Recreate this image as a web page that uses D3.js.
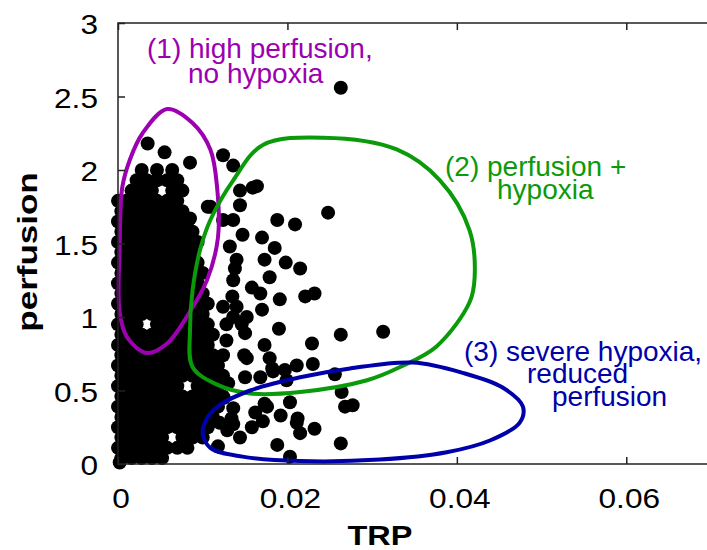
<!DOCTYPE html>
<html><head><meta charset="utf-8">
<script src="https://cdn.jsdelivr.net/npm/d3@7"></script>
<style>body{margin:0;background:#fff}text{font-family:"Liberation Sans",Arial,sans-serif}</style>
</head><body><svg id="c" width="707" height="550"></svg>
<script>
// ---- data ----
const xTicks = [0, 0.02, 0.04, 0.06];
const xTickLabels = ["0", "0.02", "0.04", "0.06"];
const yTicks = [0, 0.5, 1, 1.5, 2, 2.5, 3];
const yTickLabels = ["0", "0.5", "1", "1.5", "2", "2.5", "3"];

// dense core of the cloud: perfusion level of each row and TRP values in that row
const coreY = [0.04,0.11,0.18,0.25,0.32,0.39,0.46,0.53,0.60,0.67,0.74,0.81,0.88,0.95,1.02,1.09,1.16,1.23,1.30,1.37,1.44,1.51,1.58,1.65,1.72,1.79,1.86,1.93,2.00];
const coreX = [
 [0.0004,0.0016,0.0028,0.0040,0.0052],
 [0,0.0010,0.0022,0.0034,0.0046,0.0058,0.0070,0.0082],
 [0.0004,0.0016,0.0028,0.0040,0.0052,0.0076,0.0088,0.0100],
 [0,0.0010,0.0022,0.0034,0.0046,0.0058,0.0070,0.0082,0.0094,0.0106],
 [0.0004,0.0016,0.0028,0.0040,0.0052,0.0064,0.0076,0.0088,0.0100,0.0112],
 [0,0.0010,0.0022,0.0034,0.0046,0.0058,0.0070,0.0082,0.0094,0.0106,0.0118],
 [0.0004,0.0016,0.0028,0.0040,0.0052,0.0064,0.0076,0.0088,0.0100,0.0112,0.0124],
 [0,0.0010,0.0022,0.0034,0.0046,0.0058,0.0070,0.0094,0.0106,0.0118],
 [0.0004,0.0016,0.0028,0.0040,0.0052,0.0064,0.0076,0.0088,0.0100,0.0112,0.0124],
 [0,0.0010,0.0022,0.0034,0.0046,0.0058,0.0070,0.0082,0.0094,0.0106,0.0118],
 [0.0004,0.0016,0.0028,0.0040,0.0052,0.0064,0.0076,0.0088,0.0100,0.0112,0.0124],
 [0,0.0010,0.0022,0.0034,0.0046,0.0058,0.0070,0.0082,0.0094,0.0106],
 [0.0004,0.0016,0.0028,0.0040,0.0052,0.0064,0.0076,0.0088,0.0100,0.0112],
 [0,0.0010,0.0022,0.0046,0.0058,0.0070,0.0082,0.0094,0.0106],
 [0.0004,0.0016,0.0028,0.0040,0.0052,0.0064,0.0076,0.0088,0.0100],
 [0,0.0010,0.0022,0.0034,0.0046,0.0058,0.0070,0.0082,0.0094,0.0106],
 [0.0004,0.0016,0.0028,0.0040,0.0052,0.0064,0.0076,0.0088,0.0100],
 [0,0.0010,0.0022,0.0034,0.0046,0.0058,0.0070,0.0082,0.0094],
 [0.0004,0.0016,0.0028,0.0040,0.0052,0.0064,0.0076,0.0088,0.0100],
 [0,0.0010,0.0022,0.0034,0.0046,0.0058,0.0070,0.0082,0.0094],
 [0.0004,0.0016,0.0028,0.0040,0.0052,0.0064,0.0076,0.0088],
 [0,0.0010,0.0022,0.0034,0.0046,0.0058,0.0070,0.0082,0.0094],
 [0.0004,0.0016,0.0028,0.0040,0.0052,0.0064,0.0076,0.0088],
 [0,0.0010,0.0022,0.0034,0.0046,0.0058,0.0070,0.0082],
 [0.0004,0.0016,0.0028,0.0040,0.0052,0.0064,0.0076],
 [0,0.0010,0.0022,0.0034,0.0046,0.0058,0.0070],
 [0.0016,0.0028,0.0040,0.0064,0.0076],
 [0.0022,0.0034,0.0046,0.0058,0.0070],
 [0.0028,0.0046,0.0064]
];

// scattered points outside the core
const scatterTRP = [0.0002,0.0035,0.0055,0.0085,0.0106,0.0085,
 0.0263,0.0124,0.0136,0.0164,0.0144,0.0144,0.0248,0.0136,0.0188,0.0209,0.0147,0.0170,0.0185,0.0173,
 0.0198,0.0215,0.0138,0.0179,0.0136,0.0158,0.0168,0.0191,0.0221,0.0232,0.0140,0.0170,0.0152,0.0146,
 0.0150,0.0190,0.0263,0.0313,0.0229,0.0173,0.0149,0.0179,0.0211,0.0230,0.0182,0.0197,0.0150,0.0168,
 0.0199,0.0256,0.0264,0.0277,0.0268,0.0203,0.0173,0.0162,0.0136,0.0192,0.0212,0.0171,0.0158,0.0136,
 0.0120,0.0232,0.0215,0.0144,0.0188,0.0263,0.0203,0.0109,0.0124,0.0132,0.0140,0.0135,0.0124,0.0136,
 0.0159,0.0152,0.0129,0.0176,0.0211,0.0183,0.0128,0.0130,0.0125,0.0134,0.0118,0.0128];
const scatterPerf = [0.01,2.18,2.12,2.05,1.75,1.67,
 2.56,2.10,2.03,1.89,1.86,1.76,1.71,1.66,1.66,1.63,1.56,1.54,1.47,1.39,
 1.37,1.33,1.33,1.27,1.25,1.20,1.16,1.12,1.14,1.16,1.07,1.05,1.00,0.95,
 0.89,0.92,0.88,0.90,0.82,0.81,0.74,0.72,0.67,0.68,0.65,0.64,0.59,0.59,
 0.57,0.61,0.49,0.40,0.39,0.42,0.41,0.35,0.38,0.33,0.31,0.29,0.25,0.27,
 0.28,0.24,0.21,0.18,0.13,0.14,0.05,1.75,1.66,1.48,1.39,1.14,1.07,1.00,
 1.88,0.72,0.23,0.39,0.28,0.63,0.84,0.55,0.45,0.31,0.12,0.95];

// annotation outlines (TRP, perfusion)
const region1 = [[0.0058,2.415],[0.0088,2.32],[0.0109,2.14],[0.0117,1.88],[0.0118,1.54],[0.0105,1.25],[0.0081,1.00],[0.0058,0.82],[0.0034,0.755],[0.0011,0.86],[0.0002,1.03],[0.0002,1.48],[0.0005,1.88],[0.0014,2.07],[0.0029,2.25]];
const region2 = [[0.0085,0.91],[0.0088,0.66],[0.0117,0.54],[0.0156,0.48],[0.0215,0.49],[0.0294,0.57],[0.0333,0.66],[0.0376,0.80],[0.0415,1.10],[0.0421,1.27],[0.0415,1.59],[0.0380,1.93],[0.0329,2.14],[0.0242,2.22],[0.0171,2.17],[0.0136,1.93],[0.0109,1.66],[0.0097,1.46],[0.0088,1.18]];
const region3 = [[0.0100,0.21],[0.0105,0.31],[0.0120,0.40],[0.0156,0.50],[0.0215,0.59],[0.0274,0.65],[0.0348,0.69],[0.0407,0.62],[0.0454,0.52],[0.0478,0.39],[0.0474,0.28],[0.0439,0.16],[0.0388,0.08],[0.0309,0.03],[0.0215,0.02],[0.0147,0.05],[0.0109,0.11]];
const regionColors = ["#9c00b0", "#0a9a0a", "#0000aa"];
const regionLabels = [
 ["(1) high perfusion,", "no hypoxia"],
 ["(2) perfusion +", "hypoxia"],
 ["(3) severe hypoxia,", "reduced", "perfusion"]
];

// ---- drawing ----
const svg = d3.select("#c");
const x = d3.scaleLinear().domain([0, 0.07]).range([118, 711]);
const y = d3.scaleLinear().domain([0, 3]).range([464, 23]);

const pts = [];
coreY.forEach((py, i) => coreX[i].forEach(px => pts.push([px, py])));
scatterTRP.forEach((px, i) => pts.push([px, scatterPerf[i]]));

svg.append("g").selectAll("circle").data(pts).join("circle")
  .attr("cx", d => x(d[0])).attr("cy", d => y(d[1])).attr("r", 7).attr("fill", "#000");

const line = d3.line().x(d => x(d[0])).y(d => y(d[1])).curve(d3.curveCatmullRomClosed.alpha(0.5));
[region1, region2, region3].forEach((r, i) => {
  svg.append("path").attr("d", line(r)).attr("fill", "none")
    .attr("stroke", regionColors[i]).attr("stroke-width", 4);
});

// frame
const fr = svg.append("g").attr("stroke", "#222").attr("stroke-width", 1.5).attr("fill", "none");
fr.append("rect").attr("x", x(0)).attr("y", y(3)).attr("width", x(0.07) - x(0)).attr("height", y(0) - y(3));
// ticks (inward, mirrored)
const xa = svg.append("g").attr("transform", `translate(0,${y(0)})`)
  .call(d3.axisBottom(x).tickValues(xTicks).tickSize(-7).tickFormat(""));
const xt = svg.append("g").attr("transform", `translate(0,${y(3)})`)
  .call(d3.axisTop(x).tickValues(xTicks).tickSize(-7).tickFormat(""));
const ya = svg.append("g").attr("transform", `translate(${x(0)},0)`)
  .call(d3.axisLeft(y).tickValues(yTicks).tickSize(-7).tickFormat(""));
[xa, xt, ya].forEach(g => { g.select(".domain").remove(); g.selectAll("line").attr("stroke", "#222").attr("stroke-width", 1.5); });

// tick labels
svg.append("g").selectAll("text").data(xTicks).join("text")
  .attr("transform", d => `translate(${x(d) + 3},508) scale(1.13,1)`)
  .attr("text-anchor", "middle").attr("font-size", 28).attr("fill", "#000")
  .text((d, i) => xTickLabels[i]);
svg.append("g").selectAll("text").data(yTicks).join("text")
  .attr("transform", d => `translate(98,${y(d) + 11}) scale(1.13,1)`)
  .attr("text-anchor", "end").attr("font-size", 28).attr("fill", "#000")
  .text((d, i) => yTickLabels[i]);

// axis titles
svg.append("text").attr("transform", "translate(380,545) scale(1.16,1)")
  .attr("text-anchor", "middle").attr("font-size", 28).attr("font-weight", "bold").text("TRP");
svg.append("text").attr("transform", "translate(37,252) rotate(-90) scale(1.25,1)")
  .attr("text-anchor", "middle").attr("font-size", 28).attr("font-weight", "bold").text("perfusion");

// annotations
const annPos = [
  [[147, 58], [188, 83]],
  [[445, 176], [497, 199]],
  [[464, 361], [527, 383], [552, 406]]
];
regionLabels.forEach((lines, i) => {
  lines.forEach((t, j) => {
    svg.append("text").attr("x", annPos[i][j][0]).attr("y", annPos[i][j][1])
      .attr("font-size", 28).attr("fill", regionColors[i]).text(t);
  });
});
</script></body></html>
